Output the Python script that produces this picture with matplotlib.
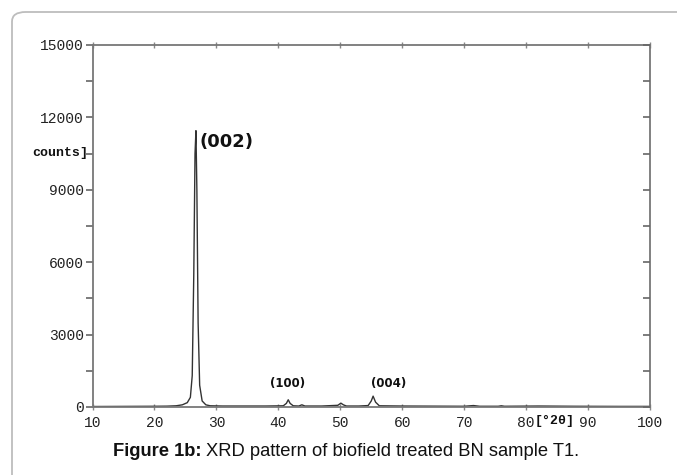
import matplotlib
matplotlib.use("Agg")
import matplotlib.pyplot as plt
from matplotlib.patches import FancyBboxPatch
from matplotlib.ticker import MultipleLocator

# --- data ---
two_theta = [10, 15, 20, 22, 23.5, 24.5, 25.3, 25.8, 26.1, 26.35, 26.55, 26.7,
             26.85, 27.05, 27.3, 27.7, 28.3, 29, 31, 38, 40.8, 41.3, 41.6, 41.9,
             42.4, 43.3, 43.8, 44.3, 47, 49.6, 50.1, 50.5, 51, 53, 54.5, 55.0,
             55.3, 55.7, 56.3, 60, 70, 71.5, 72.5, 75.5, 76, 76.5, 82, 88, 95, 100]
counts = [20, 25, 30, 35, 50, 90, 180, 400, 1300, 5500, 10500, 11450,
          9000, 3500, 900, 250, 90, 50, 40, 40, 50, 150, 300, 150,
          50, 40, 90, 40, 40, 70, 160, 90, 40, 40, 60, 250,
          450, 200, 50, 40, 30, 60, 30, 30, 50, 30, 40, 30, 25, 25]

x_ticks = [10, 20, 30, 40, 50, 60, 70, 80, 90, 100]
y_ticks = [0, 3000, 6000, 9000, 12000, 15000]
peak_labels = ["(002)", "(100)", "(004)"]
peak_pos = [(27.2, 11000), (38.6, 700), (55.0, 700)]

W, H = 677, 475
fig = plt.figure(figsize=(W / 100, H / 100), dpi=100)
fig.patch.set_facecolor("white")

# outer rounded frame (extends past right/bottom edge)
frame = FancyBboxPatch((12 / W, -0.2), 1.2, (H - 12) / H + 0.2,
                       boxstyle="round,pad=0,rounding_size=0.02",
                       transform=fig.transFigure, fill=False,
                       edgecolor="#bdbdbd", linewidth=1.3, clip_on=False)
fig.patches.append(frame)

left, right, bottom, top = 92.5, 650, 407, 45
ax = fig.add_axes([left / W, 1 - bottom / H, (right - left) / W, (bottom - top) / H])
ax.plot(two_theta, counts, color="#333333", linewidth=1.0)
ax.set_xlim(10, 100)
ax.set_ylim(0, 15000)

mono = "Liberation Mono"
ax.set_xticks(x_ticks)
ax.set_xticklabels([str(v) for v in x_ticks], fontfamily=mono, fontsize=10.5, color="#222222")
ax.set_yticks(y_ticks)
ax.set_yticklabels([str(v) for v in y_ticks], fontfamily=mono, fontsize=10.5, color="#222222")
ax.yaxis.set_minor_locator(MultipleLocator(1500))

ax.tick_params(axis="y", which="both", direction="out", length=5, width=1.2, color="#666666",
               pad=1, left=True, right=False)
ax.tick_params(axis="x", which="both", direction="inout", length=5, width=1, color="#888888",
               pad=4, top=True)
for s in ax.spines.values():
    s.set_color("#777777")
    s.set_linewidth(1.3)

# inward ticks on right spine
ax2 = ax.twinx()
ax2.set_ylim(0, 15000)
ax2.yaxis.set_major_locator(MultipleLocator(1500))
ax2.tick_params(axis="y", direction="in", length=5, width=1.2, color="#666666", labelright=False)
for s in ax2.spines.values():
    s.set_visible(False)

# axis labels (as in the scan)
fig.text(32 / W, 1 - 153 / H, "counts]", fontfamily=mono, fontweight="bold",
         fontsize=9.5, va="center", ha="left", color="#111111")
fig.text(555 / W, 1 - 421 / H, "[°2θ]", fontfamily=mono, fontweight="bold",
         fontsize=9.5, va="center", ha="center", color="#111111",
         bbox=dict(facecolor="white", edgecolor="none", pad=0.5))

# peak labels
ax.text(*peak_pos[0], peak_labels[0], fontfamily="DejaVu Sans", fontweight="bold",
        fontsize=13, va="center", ha="left", color="#111111")
ax.text(*peak_pos[1], peak_labels[1], fontfamily="DejaVu Sans", fontweight="bold",
        fontsize=8.5, va="bottom", ha="left", color="#111111")
ax.text(*peak_pos[2], peak_labels[2], fontfamily="DejaVu Sans", fontweight="bold",
        fontsize=8.5, va="bottom", ha="left", color="#111111")

# caption: bold prefix + normal text
cap_y = 1 - 452 / H
t1 = fig.text(113 / W, cap_y, "Figure 1b:", fontfamily="Liberation Sans", fontweight="bold",
              fontsize=13.2, ha="left", va="center", color="#111111")
fig.canvas.draw()
bb = t1.get_window_extent(renderer=fig.canvas.get_renderer())
fig.text((bb.x1 + 4) / W, cap_y, "XRD pattern of biofield treated BN sample T1.",
         fontfamily="Liberation Sans", fontsize=13.2, ha="left", va="center", color="#111111")

fig.savefig("out.png", dpi=100, facecolor="white")
